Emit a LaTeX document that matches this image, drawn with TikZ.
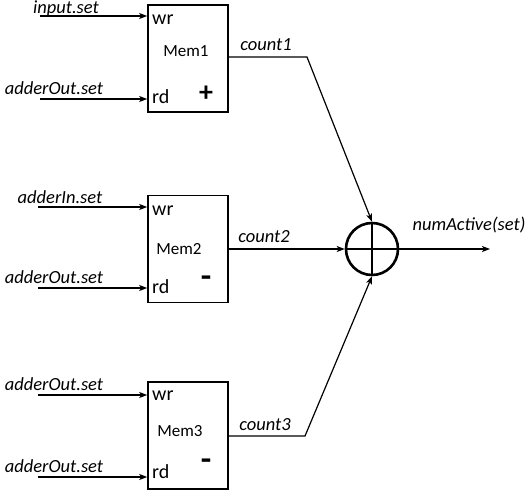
\documentclass[tikz,border=0pt]{standalone}
\usepackage{fontspec}
\setmainfont{Carlito}
\usetikzlibrary{arrows.meta}

\begin{document}
\begin{tikzpicture}[
		x=1pt, y=-1pt,
		every node/.style={inner sep=0pt, font=\fontsize{19}{22}\selectfont},
		memblock/.style={rectangle, draw, line width=1.6pt, minimum width=80pt, minimum height=107pt},
		sig/.style={font=\fontsize{18.5}{22}\selectfont\itshape},
		port/.style={anchor=west, font=\fontsize{20}{22}\selectfont},
		memname/.style={font=\fontsize{17}{20}\selectfont},
		wire/.style={line width=1.2pt, -{Stealth[length=8pt,width=6pt,inset=2pt]}}
	]
  \useasboundingbox (0,0) rectangle (532,498);
  % memories
  \node (mem1) [memblock] at (188,58.5) {};
  \node (mem2) [memblock] at (188,249) {};
  \node (mem3) [memblock] at (188,435.5) {};
  \node (mem1_name) [memname] at (186,51) {Mem1};
  \node (mem2_name) [memname] at (179,249) {Mem2};
  \node (mem3_name) [memname] at (180,431) {Mem3};
  \node (wr1) [port] at (152,20) {wr};
  \node (rd1) [port] at (152,97) {rd};
  \node (wr2) [port] at (152,211) {wr};
  \node (rd2) [port] at (152,287) {rd};
  \node (wr3) [port] at (152,396) {wr};
  \node (rd3) [port] at (152,472) {rd};
  \node (sgn1) [font=\fontsize{28}{28}\bfseries] at (206,94) {+};
  \node (sgn2) [font=\fontsize{24}{24}\bfseries] at (206,282) {\scalebox{1}[1.6]{\textendash}};
  \node (sgn3) [font=\fontsize{24}{24}\bfseries] at (206,465) {\scalebox{1}[1.6]{\textendash}};
  % adder
  \node (sum) [circle, draw, line width=2.6pt, minimum size=52pt] at (372,249) {};
  \draw [line width=2.4pt] (sum.north) -- (sum.south);
  \draw [line width=2.4pt] (sum.west) -- (sum.east);
  % inputs
  \coordinate (in1) at (40,16);
  \coordinate (in2) at (40,99);
  \coordinate (in3) at (38,207);
  \coordinate (in4) at (38,288);
  \coordinate (in5) at (38,395);
  \coordinate (in6) at (38,477);
  \node (in1_label) [sig] at (66,8.5) {input.set};
  \node (in2_label) [sig] at (54,88) {adderOut.set};
  \node (in3_label) [sig] at (60,197) {adderIn.set};
  \node (in4_label) [sig] at (54,277) {adderOut.set};
  \node (in5_label) [sig] at (54,384) {adderOut.set};
  \node (in6_label) [sig] at (54,466) {adderOut.set};
  \draw [wire] (in1) -- (mem1.west |- in1);
  \draw [wire] (in2) -- (mem1.west |- in2);
  \draw [wire] (in3) -- (mem2.west |- in3);
  \draw [wire] (in4) -- (mem2.west |- in4);
  \draw [wire] (in5) -- (mem3.west |- in5);
  \draw [wire] (in6) -- (mem3.west |- in6);
  % counts
  \coordinate (k1) at (307,57);
  \coordinate (k3) at (305,436);
  \coordinate (out) at (490,249);
  \node (count1) [sig] at (266,45) {count1};
  \node (count2) [sig] at (264,237) {count2};
  \node (count3) [sig] at (265,425) {count3};
  \node (num) [sig] at (469,225) {numActive(set)};
  \draw [wire] (mem1.east |- k1) -- (k1) -- (sum.north);
  \draw [wire] (mem2.east) -- (sum.west);
  \draw [wire] (mem3.east |- k3) -- (k3) -- (sum.south);
  \draw [wire] (sum.east) -- (out);
\end{tikzpicture}
\end{document}
